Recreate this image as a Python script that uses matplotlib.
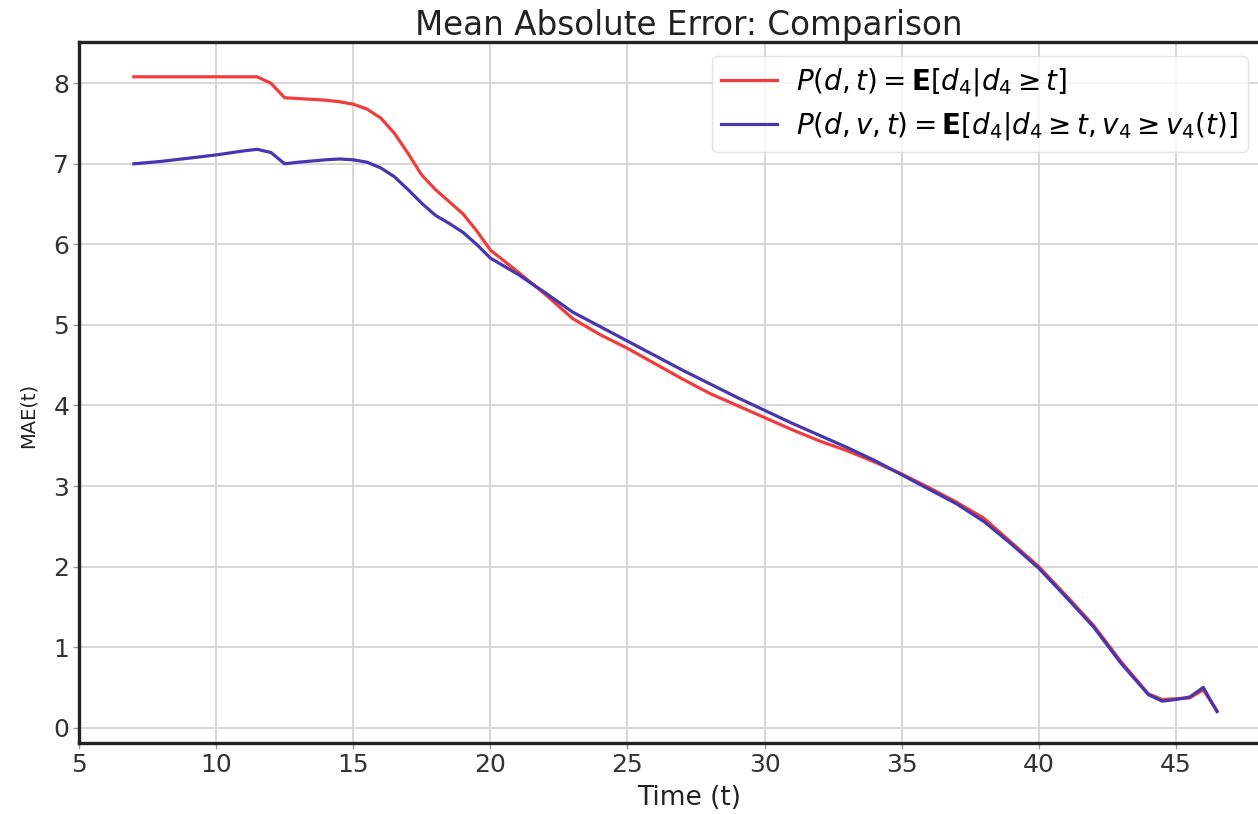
import matplotlib
matplotlib.use("Agg")
import matplotlib.pyplot as plt

# time grid (s) shared by both curves
time = [7, 8, 9, 10, 11, 11.5, 12, 12.5, 13, 14, 14.5, 15, 15.5, 16, 16.5,
        17, 17.5, 18, 18.5, 19, 19.5, 20, 21, 22, 23, 24, 25, 26, 27, 28,
        29, 30, 31, 32, 33, 34, 35, 36, 37, 38, 39, 40, 41, 42, 43, 44,
        44.5, 45, 45.5, 46, 46.5]

# MAE for P(d, t)
mae_dt = [8.08, 8.08, 8.08, 8.08, 8.08, 8.08, 8.00, 7.82, 7.81, 7.79, 7.77,
          7.74, 7.68, 7.57, 7.38, 7.13, 6.86, 6.68, 6.53, 6.38, 6.17, 5.93,
          5.66, 5.38, 5.08, 4.88, 4.71, 4.52, 4.33, 4.15, 4.00, 3.85, 3.70,
          3.56, 3.44, 3.30, 3.15, 2.98, 2.80, 2.60, 2.30, 2.00, 1.64, 1.27,
          0.82, 0.42, 0.35, 0.36, 0.37, 0.47, 0.21]

# MAE for P(d, v, t)
mae_dvt = [7.00, 7.03, 7.07, 7.11, 7.16, 7.18, 7.14, 7.00, 7.02, 7.05, 7.06,
           7.05, 7.02, 6.95, 6.84, 6.68, 6.51, 6.36, 6.26, 6.15, 6.00, 5.83,
           5.63, 5.40, 5.16, 4.98, 4.80, 4.62, 4.44, 4.27, 4.10, 3.94, 3.78,
           3.63, 3.48, 3.32, 3.14, 2.96, 2.78, 2.56, 2.28, 1.98, 1.62, 1.25,
           0.80, 0.41, 0.33, 0.35, 0.38, 0.50, 0.20]

label_dt = r"$P(d,t) = \mathbf{E}[d_4 | d_4 \geq t]$"
label_dvt = r"$P(d,v,t) = \mathbf{E}[d_4 | d_4 \geq t, v_4 \geq v_4(t)]$"

fig = plt.figure(figsize=(12.58, 8.14), dpi=100)
# right spine falls just outside the picture, like the reference crop
ax = fig.add_axes([0.0628, 0.0872, 0.97, 0.861])

ax.plot(time, mae_dt, color="#f03c3c", lw=2.3, label=label_dt)
ax.plot(time, mae_dvt, color="#4636b0", lw=2.3, label=label_dvt)

ax.set_xlim(5, 49.5)
ax.set_ylim(-0.19, 8.51)
ax.set_xticks(range(5, 50, 5))
ax.set_yticks(range(0, 9))

ax.grid(True, color="#d6d6d6", lw=1.4)
ax.set_axisbelow(True)
for side in ax.spines.values():
    side.set_linewidth(2.4)
    side.set_color("#222222")
ax.tick_params(labelsize=18, length=4, width=1, color="#999999",
               labelcolor="#333333", pad=3)

ax.set_title("Mean Absolute Error: Comparison", fontsize=23.5,
             color="#222222", pad=2)
ax.set_xlabel("Time (t)", fontsize=19, color="#222222", labelpad=6)
ax.set_ylabel("MAE(t)", fontsize=14, color="#222222")
ax.yaxis.set_label_coords(-0.034, 0.468)

ax.legend(loc="upper right", bbox_to_anchor=(1248 / 1258, 758 / 814),
          bbox_transform=fig.transFigure, fontsize=20, framealpha=0.8,
          edgecolor="#dddddd", handlelength=2.0, handletextpad=0.7,
          borderpad=0.35, labelspacing=0.45, borderaxespad=0)

fig.savefig("out.png", dpi=100)
